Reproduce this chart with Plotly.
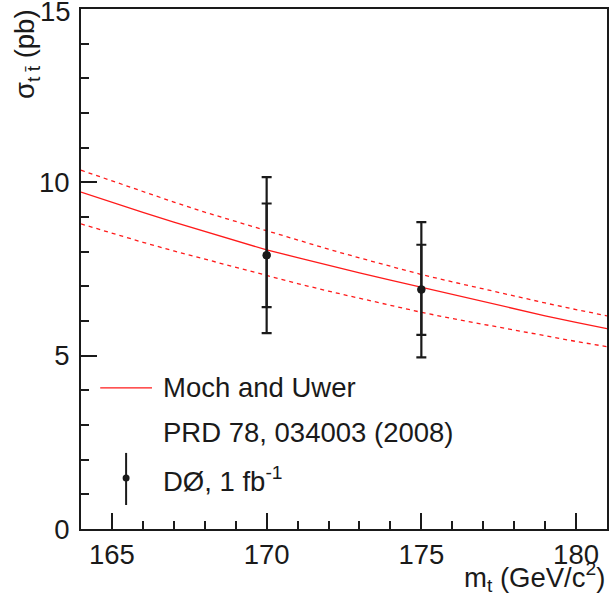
import plotly.graph_objects as go

# Theory curve (Moch and Uwer) vs top mass
mt_theory = [164, 165, 166, 167, 168, 169, 170, 171, 172, 173, 174, 175, 176, 177, 178, 179, 180, 181]
xsec_central = [9.72, 9.42, 9.13, 8.85, 8.58, 8.31, 8.05, 7.83, 7.60, 7.39, 7.18, 6.97, 6.76, 6.55, 6.35, 6.15, 5.96, 5.78]
xsec_upper = [10.35, 10.04, 9.73, 9.43, 9.14, 8.87, 8.60, 8.33, 8.07, 7.82, 7.58, 7.34, 7.13, 6.92, 6.72, 6.52, 6.33, 6.15]
xsec_lower = [8.80, 8.53, 8.27, 8.02, 7.78, 7.54, 7.31, 7.08, 6.86, 6.65, 6.45, 6.25, 6.07, 5.90, 5.73, 5.57, 5.41, 5.26]

# D0 measurements
mt_meas = [170, 175]
xsec_meas = [7.90, 6.91]
err_stat_up = [1.49, 1.29]
err_stat_dn = [1.50, 1.31]
err_tot_up = [2.25, 1.94]
err_tot_dn = [2.25, 1.96]

x_ticks = [165, 170, 175, 180]
y_ticks = [0, 5, 10, 15]
legend_labels = ["Moch and Uwer", "PRD 78, 034003 (2008)", "DØ, 1 fb<sup>-1</sup>"]

FONT = "Liberation Sans, Arial, Helvetica, sans-serif"
TXT = "#1a1a1a"
RED = "#ff1a1a"
FS = 27.5

fig = go.Figure()
fig.add_trace(go.Scatter(x=mt_theory, y=xsec_upper, mode="lines",
                         line=dict(color=RED, width=1.3, dash="4px,4px"), showlegend=False))
fig.add_trace(go.Scatter(x=mt_theory, y=xsec_lower, mode="lines",
                         line=dict(color=RED, width=1.3, dash="4px,4px"), showlegend=False))
fig.add_trace(go.Scatter(x=mt_theory, y=xsec_central, mode="lines",
                         line=dict(color=RED, width=1.3), showlegend=False))
# total errors
fig.add_trace(go.Scatter(x=mt_meas, y=xsec_meas, mode="markers",
                         marker=dict(color=TXT, size=8),
                         error_y=dict(type="data", symmetric=False, array=err_tot_up, arrayminus=err_tot_dn,
                                      color=TXT, thickness=2.2, width=5),
                         showlegend=False))
# statistical errors (inner ticks)
fig.add_trace(go.Scatter(x=mt_meas, y=xsec_meas, mode="markers",
                         marker=dict(color=TXT, size=8),
                         error_y=dict(type="data", symmetric=False, array=err_stat_up, arrayminus=err_stat_dn,
                                      color=TXT, thickness=2.2, width=5),
                         showlegend=False))

# geometry helpers (paper coordinates)
L, R, T, B = 80.7, 609.0, 9.5, 529.0
W, H = R - L, B - T
def px(x):
    return (x - L) / W
def py(y):
    return (B - y) / H

shapes = [
    dict(type="line", xref="paper", yref="paper", x0=px(100), x1=px(152), y0=py(388), y1=py(388),
         line=dict(color=RED, width=1.3)),
    dict(type="line", xref="paper", yref="paper", x0=px(126), x1=px(126), y0=py(453), y1=py(505),
         line=dict(color=TXT, width=2)),
    dict(type="circle", xref="paper", yref="paper", x0=px(122.5), x1=px(129.5), y0=py(474.5), y1=py(481.5),
         fillcolor=TXT, line=dict(color=TXT, width=0)),
]

annotations = [
    dict(text=legend_labels[0], xref="paper", yref="paper", x=px(161), y=py(388), xanchor="left", yanchor="middle",
         showarrow=False, font=dict(size=FS, color=TXT, family=FONT)),
    dict(text=legend_labels[1], xref="paper", yref="paper", x=px(161), y=py(433), xanchor="left", yanchor="middle",
         showarrow=False, font=dict(size=FS, color=TXT, family=FONT)),
    dict(text=legend_labels[2], xref="paper", yref="paper", x=px(161), y=py(480), xanchor="left", yanchor="middle",
         showarrow=False, font=dict(size=FS, color=TXT, family=FONT)),
    dict(text="m<sub>t</sub> (GeV/c<sup>2</sup>)", xref="paper", yref="paper", x=1.0, y=py(577),
         xanchor="right", yanchor="middle", showarrow=False, font=dict(size=FS, color=TXT, family=FONT)),
    dict(text="σ<sub>t t̄</sub> (pb)", xref="paper", yref="paper", x=px(26), y=py(8),
         xanchor="center", yanchor="top", textangle=-90, showarrow=False,
         font=dict(size=FS, color=TXT, family=FONT)),
    # top y tick label, placed at the top of the axis (kept as text)
    dict(text=str(y_ticks[-1]), xref="paper", yref="y", x=px(73), y=y_ticks[-1], yshift=-2,
         xanchor="right", yanchor="middle", showarrow=False, font=dict(size=FS, color=TXT, family=FONT)),
]

fig.update_layout(
    width=610, height=601,
    margin=dict(l=81, r=1, t=9, b=72),
    paper_bgcolor="white", plot_bgcolor="white",
    font=dict(family=FONT, color=TXT, size=FS),
    shapes=shapes, annotations=annotations,
    showlegend=False,
)
fig.update_xaxes(range=[164, 181], tickvals=x_ticks, ticks="inside", ticklen=16, tickwidth=1.5,
                 tickcolor=TXT, showline=True, linecolor=TXT, linewidth=2, mirror=True, showgrid=False,
                 zeroline=False, tickfont=dict(size=FS, color=TXT, family=FONT),
                 minor=dict(dtick=1, tick0=164, ticks="inside", ticklen=8, tickwidth=1.5, tickcolor=TXT, showgrid=False))
fig.update_yaxes(range=[0, 15], tickvals=y_ticks[:-1], ticks="inside", ticklen=16, tickwidth=1.5,
                 tickcolor=TXT, showline=True, linecolor=TXT, linewidth=2, mirror=True, showgrid=False,
                 zeroline=False, tickfont=dict(size=FS, color=TXT, family=FONT), ticklabelstandoff=4,
                 minor=dict(dtick=1, tick0=0, ticks="inside", ticklen=8, tickwidth=1.5, tickcolor=TXT, showgrid=False))

fig.write_html("out.html")
